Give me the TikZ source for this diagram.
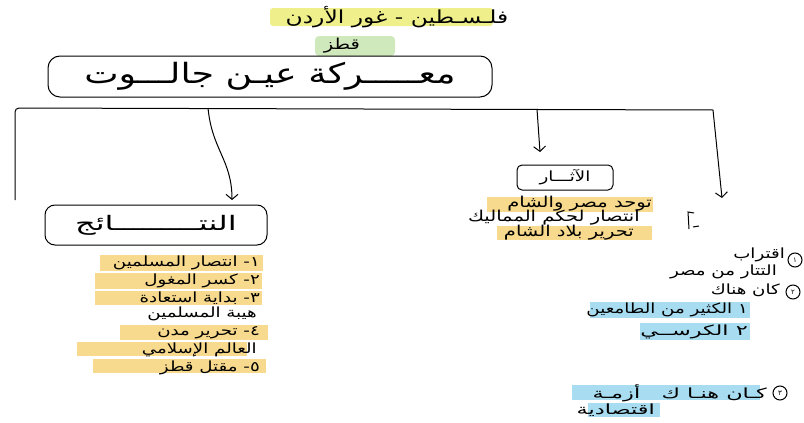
\documentclass[tikz,border=0pt]{standalone}
\usepackage{fontspec}
\newfontfamily\arabicfont[Script=Arabic]{DejaVu Sans}
\newfontfamily\arabicwide[Script=Arabic, FakeStretch=1.3]{DejaVu Sans}
\newfontfamily\arabicwider[Script=Arabic, FakeStretch=1.6]{DejaVu Sans}
\TeXXeTstate=1
\usetikzlibrary{arrows.meta}

\definecolor{hlyellow}{HTML}{F8DA8E}
\definecolor{hllime}{HTML}{EFF08C}
\definecolor{hlgreen}{HTML}{CFE8BC}
\definecolor{hlblue}{HTML}{A8DCF0}
\newcommand{\ar}[1]{\arabicwide\beginR #1\endR}
\newcommand{\arw}[1]{\arabicwider\beginR #1\endR}

\tikzset{
  ink/.style={black, line width=1pt},
  arrowline/.style={ink, -{Straight Barb[length=5pt,width=12pt]}},
  txt/.style={font=\fontsize{14}{16}\selectfont, inner sep=0pt, anchor=east},
  frame/.style={draw, ink, rounded corners=8pt, inner sep=0pt},
  numring/.style={draw, ink, circle, inner sep=0pt, minimum size=14pt, font=\arabicfont\fontsize{7}{8}\selectfont}
}

\begin{document}
\begin{tikzpicture}[x=1pt, y=-1pt]
  \def\cw{804} \def\ch{423}
  \useasboundingbox (0,0) rectangle (\cw,\ch);

  % title and leader
  \fill[hllime, rounded corners=3pt] (270,8) rectangle (493,26);
  \node[font=\fontsize{18}{20}\selectfont, inner sep=0pt] (place) at (397,17) {\ar{فلـسـطين - غور الأردن}};
  \fill[hlgreen, rounded corners=4pt] (315,36) rectangle (395,56);
  \node[font=\fontsize{15}{17}\selectfont, inner sep=0pt] (qutuz) at (342,46) {\ar{قطز}};
  \node[frame, rounded corners=12pt, minimum width=444pt, minimum height=41pt,
        font=\fontsize{28}{30}\selectfont] (battle) at (270,76.5) {\ar{معـــــركة عيـن جالـــوت}};

  % branches
  \coordinate (bar l) at (15,108);
  \coordinate (bar a) at (208,108);
  \coordinate (bar b) at (537,109);
  \coordinate (bar r) at (713,110);
  \coordinate (res tip) at (232,200);
  \coordinate (eff tip) at (540,152);
  \coordinate (note tip) at (722,198);
  \draw[ink, rounded corners=4pt] (15,200) -- (bar l) -- (bar r);
  \draw[arrowline] (bar a) .. controls (212,150) and (232,160) .. (res tip);
  \draw[arrowline] (bar b) -- (eff tip);
  \draw[arrowline] (bar r) -- (note tip);

  % results
  \node[frame, rounded corners=10pt, minimum width=222pt, minimum height=40pt,
        font=\fontsize{20}{22}\selectfont] (results) at (156,225) {\arw{النتـــــــــائج}};
  \fill[hlyellow] (100,255) rectangle (263,271);
  \fill[hlyellow] (95,273) rectangle (262,289);
  \fill[hlyellow] (95,291) rectangle (262,305);
  \fill[hlyellow] (120,325) rectangle (268,340);
  \fill[hlyellow] (77,342) rectangle (247,356);
  \fill[hlyellow] (93,359) rectangle (266,373);
  \node[txt] (res1) at (260,263) {\ar{١- انتصار المسلمين}};
  \node[txt] (res2) at (260,281) {\ar{٢- كسر المغول}};
  \node[txt] (res3) at (260,298) {\ar{٣- بداية استعادة}};
  \node[txt] (res3b) at (257,314) {\ar{هيبة المسلمين}};
  \node[txt] (res4) at (260,333) {\ar{٤- تحرير مدن}};
  \node[txt] (res4b) at (257,350) {\ar{العالم الإسلامي}};
  \node[txt] (res5) at (260,368) {\ar{٥- مقتل قطز}};

  % effects
  \node[frame, rounded corners=5pt, minimum width=96pt, minimum height=25pt,
        font=\fontsize{14}{16}\selectfont] (effects) at (565,177.5) {\ar{الآثـــار}};
  \fill[hlyellow] (487,197) rectangle (653,212);
  \fill[hlyellow] (497,226) rectangle (652,240);
  \node[txt, font=\fontsize{15}{16}\selectfont] (eff1) at (652,204) {\ar{توحد مصر والشام}};
  \node[txt, font=\fontsize{15}{16}\selectfont] (eff2) at (640,218) {\ar{انتصار لحكم المماليك}};
  \node[txt, font=\fontsize{15}{16}\selectfont] (eff3) at (634,233) {\ar{تحرير بلاد الشام}};

  % reasons
  \draw[ink] (694,213) -- (688,212) -- (689,229);
  \draw[ink] (693,227) -- (699,226);
  \node[numring] (n1) at (795,260) {١};
  \node[txt] (why1) at (785,255) {\ar{اقتراب}};
  \node[txt] (why1b) at (777,272) {\ar{التتار من مصر}};
  \node[numring] (n2) at (793,292) {٢};
  \node[txt] (why2) at (780,290) {\ar{كان هناك}};
  \fill[hlblue] (590,302) rectangle (750,318);
  \fill[hlblue] (640,323) rectangle (750,340);
  \node[txt] (why2a) at (748,310) {\ar{١ الكثير من الطامعين}};
  \node[txt] (why2b) at (748,332) {\arw{٢ الكرســي}};
  \node[numring] (n3) at (780,393) {٣};
  \fill[hlblue] (572,385) rectangle (760,400);
  \fill[hlblue] (588,403) rectangle (660,417);
  \node[txt] (why3) at (767,393) {\arw{كـان هنـا ك \ \ أزمـة}};
  \node[txt] (why3b) at (655,410) {\arw{اقتصادية}};
\end{tikzpicture}
\end{document}
